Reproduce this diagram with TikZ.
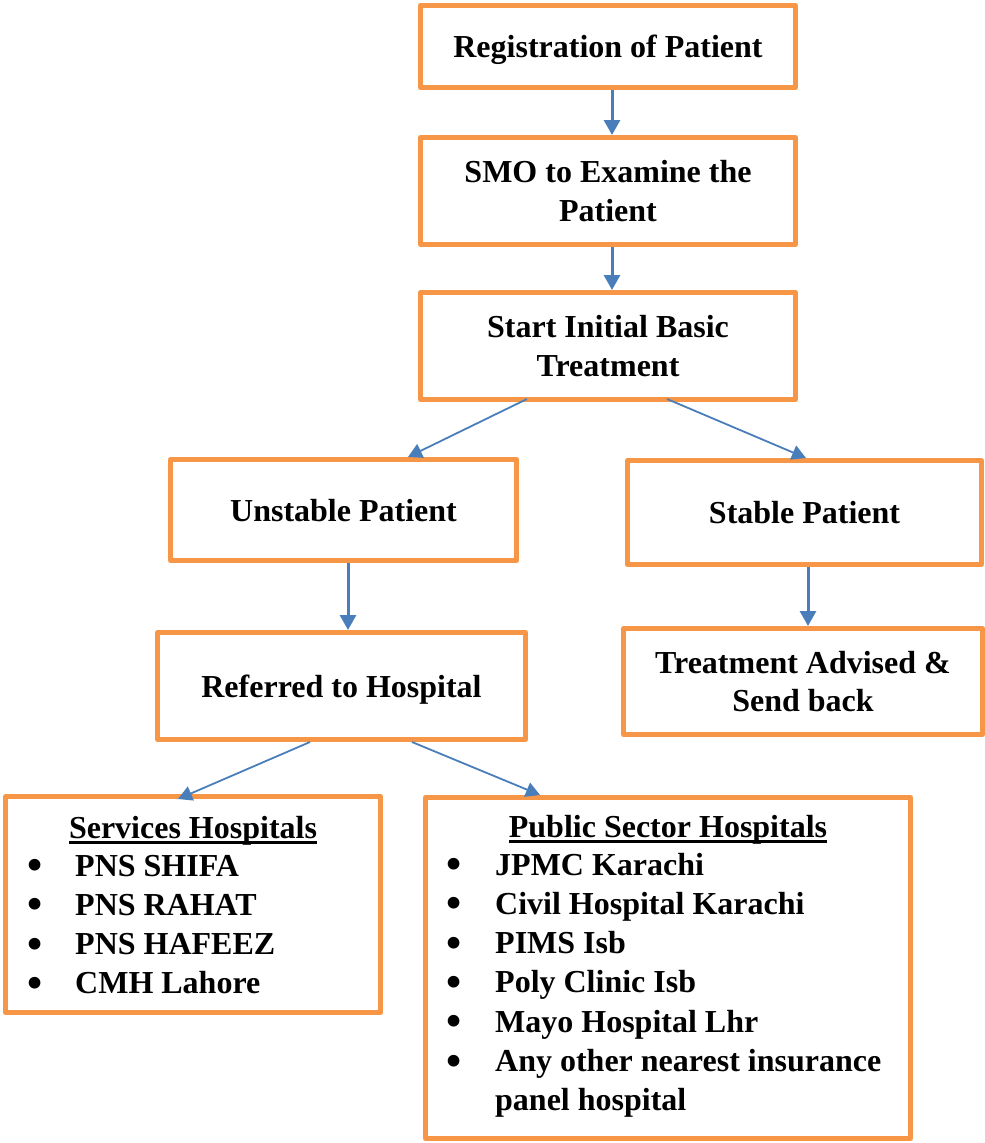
\documentclass[tikz,border=0pt]{standalone}
\usepackage{fontspec}
\usepackage{graphicx}
\setmainfont{Liberation Serif}
\usetikzlibrary{arrows.meta,calc}
\definecolor{boxorange}{HTML}{F79646}
\definecolor{arrowblue}{HTML}{4A7EBB}
% heading with a thick rule underneath
\newcommand\headline[1]{\setbox0=\hbox{#1}\rlap{\rule[-6pt]{\wd0}{3pt}}\box0}
% large list bullet in a fixed-width slot
\newcommand\bigdot[1]{\makebox[#1][l]{\raisebox{-3.5pt}{\scalebox{1.35}{\textbullet}}}}
\tikzset{
  flowbox/.style={draw=boxorange, line width=5pt, line join=round, fill=white,
    inner sep=0pt, align=center, text depth=0pt,
    font=\fontsize{32}{38.5}\selectfont\bfseries},
  listhead/.style={anchor=base, inner sep=0pt, font=\fontsize{32}{39.3}\selectfont\bfseries},
  listbody/.style={anchor=base west, inner sep=0pt, font=\fontsize{32}{39.3}\selectfont\bfseries},
  thickarrow/.style={draw=arrowblue, line width=3pt, -{Triangle[length=15pt,width=16pt]}},
  thinarrow/.style={draw=arrowblue, line width=1.8pt, -{Triangle[length=14pt,width=15pt]}},
}
\begin{document}
\begin{tikzpicture}[x=1pt,y=-1pt]
\useasboundingbox (0,0) rectangle (985,1143);

% main flow
\node[flowbox, minimum width=375pt, minimum height=82pt]  (reg)   at (608,46.5)  {Registration of Patient};
\node[flowbox, minimum width=375pt, minimum height=107pt] (smo)   at (608,191)   {SMO to Examine the\\Patient};
\node[flowbox, minimum width=375pt, minimum height=107pt] (start) at (608,346)   {Start Initial Basic\\Treatment};
\node[flowbox, minimum width=346pt, minimum height=101pt] (unst)  at (343.5,510) {Unstable Patient};
\node[flowbox, minimum width=354pt, minimum height=104pt] (stab)  at (804.5,512.5) {Stable Patient};
\node[flowbox, minimum width=368pt, minimum height=107pt] (ref)   at (341.5,686) {Referred to Hospital};
\node[flowbox, minimum width=359pt, minimum height=106pt] (treat) at (803,681.5)  {Treatment Advised \&\\Send back};

% hospital lists
\node[flowbox, minimum width=375pt, minimum height=216pt] (svc) at (193,904.5) {};
\node[flowbox, minimum width=485pt, minimum height=341pt] (pub) at (668,968) {};

\node[listhead] (svchead) at ($(svc.north)+(0,44)$) {\headline{Services Hospitals}};
\node[listbody] (svclist) at ($(svc.north west)+(24,82)$) {%
  \begin{tabular}[t]{@{}l@{}l@{}}
  \bigdot{48pt} & PNS SHIFA\\
  \bigdot{48pt} & PNS RAHAT\\
  \bigdot{48pt} & PNS HAFEEZ\\
  \bigdot{48pt} & CMH Lahore
  \end{tabular}};

\node[listhead] (pubhead) at ($(pub.north)+(0,42)$) {\headline{Public Sector Hospitals}};
\node[listbody] (publist) at ($(pub.north west)+(23,80)$) {%
  \begin{tabular}[t]{@{}l@{}l@{}}
  \bigdot{49pt} & JPMC Karachi\\
  \bigdot{49pt} & Civil Hospital Karachi\\
  \bigdot{49pt} & PIMS Isb\\
  \bigdot{49pt} & Poly Clinic Isb\\
  \bigdot{49pt} & Mayo Hospital Lhr\\
  \bigdot{49pt} & Any other nearest insurance\\
  & panel hospital
  \end{tabular}};

% connectors
\draw[thickarrow] ([xshift=4pt]reg.south)   -- ([xshift=4pt]smo.north);
\draw[thickarrow] ([xshift=4pt]smo.south)   -- ([xshift=4pt]start.north);
\draw[thinarrow]  ([xshift=-81pt,yshift=3pt]start.south) -- ([xshift=64.5pt]unst.north);
\draw[thinarrow]  ([xshift=59pt,yshift=3pt]start.south)  -- ([xshift=1.5pt]stab.north);
\draw[thickarrow] ([xshift=4.5pt]unst.south) -- ([xshift=6.5pt]ref.north);
\draw[thickarrow] ([xshift=3.5pt]stab.south) -- ([xshift=5pt]treat.north);
\draw[thinarrow]  ([xshift=-31.5pt]ref.south) -- ([xshift=-15pt,yshift=-5pt]svc.north);
\draw[thinarrow]  ([xshift=70.5pt]ref.south)  -- ([xshift=-128pt]pub.north);
\end{tikzpicture}
\end{document}
